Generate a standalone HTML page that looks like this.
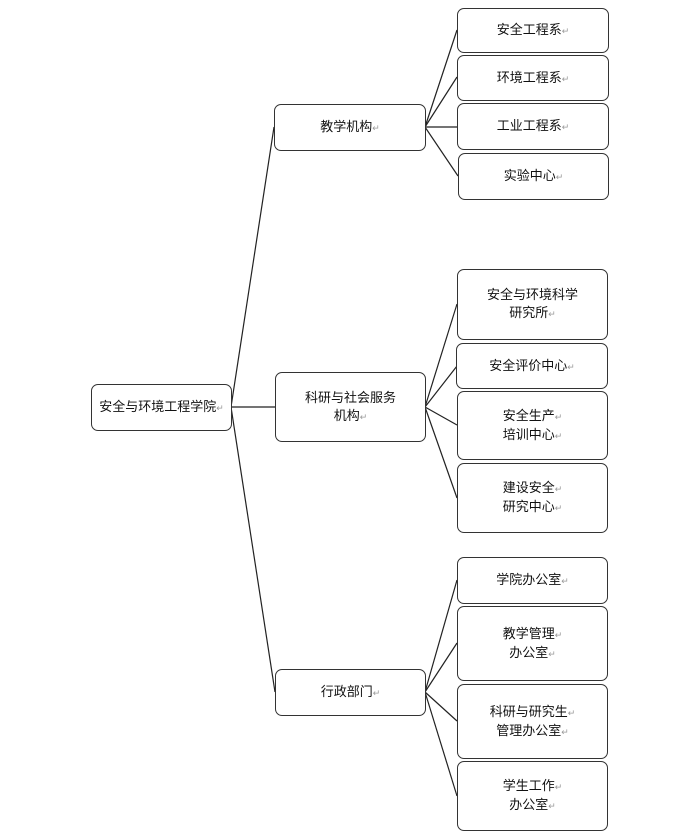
<!DOCTYPE html>
<html><head><meta charset="utf-8"><style>
body{margin:0;width:690px;height:835px;background:#fff;position:relative;overflow:hidden;font-family:"Liberation Sans","Noto Sans CJK SC",sans-serif;}
.b{position:absolute;box-sizing:border-box;border:1.3px solid #333;border-radius:7px;display:flex;align-items:center;justify-content:center;text-align:center;font-size:13px;line-height:18px;color:#111;background:#fff;}
.b>div{white-space:nowrap;}
.r{color:#999;font-size:9px;}
svg{position:absolute;left:0;top:0;}
</style></head><body>
<svg width="690" height="835"><g stroke="#222" stroke-width="1.2" fill="none">
<line x1="231" y1="407" x2="275" y2="407"/>
<line x1="231" y1="407" x2="274" y2="127"/>
<line x1="231" y1="407" x2="275" y2="692"/>
<line x1="425" y1="127" x2="457" y2="30"/>
<line x1="425" y1="127" x2="457" y2="77"/>
<line x1="425" y1="127" x2="457" y2="127"/>
<line x1="425" y1="127" x2="458" y2="176"/>
<line x1="425" y1="407" x2="457" y2="304"/>
<line x1="425" y1="407" x2="457" y2="366"/>
<line x1="425" y1="407" x2="457" y2="425"/>
<line x1="425" y1="407" x2="457" y2="498"/>
<line x1="425" y1="692" x2="457" y2="580"/>
<line x1="425" y1="692" x2="457" y2="643"/>
<line x1="425" y1="692" x2="457" y2="721"/>
<line x1="425" y1="692" x2="457" y2="796"/>
</g></svg>
<div class="b" style="left:91px;top:384px;width:141px;height:47px"><div>安全与环境工程学院<span class="r">↵</span></div></div>
<div class="b" style="left:274px;top:104px;width:152px;height:47px"><div>教学机构<span class="r">↵</span></div></div>
<div class="b" style="left:275px;top:372px;width:151px;height:70px"><div>科研与社会服务<br>机构<span class="r">↵</span></div></div>
<div class="b" style="left:275px;top:669px;width:151px;height:47px"><div>行政部门<span class="r">↵</span></div></div>
<div class="b" style="left:457px;top:8px;width:152px;height:45px"><div>安全工程系<span class="r">↵</span></div></div>
<div class="b" style="left:457px;top:55px;width:152px;height:46px"><div>环境工程系<span class="r">↵</span></div></div>
<div class="b" style="left:457px;top:103px;width:152px;height:47px"><div>工业工程系<span class="r">↵</span></div></div>
<div class="b" style="left:458px;top:153px;width:151px;height:47px"><div>实验中心<span class="r">↵</span></div></div>
<div class="b" style="left:457px;top:269px;width:151px;height:71px"><div>安全与环境科学<br>研究所<span class="r">↵</span></div></div>
<div class="b" style="left:456px;top:343px;width:152px;height:46px"><div>安全评价中心<span class="r">↵</span></div></div>
<div class="b" style="left:457px;top:391px;width:151px;height:69px"><div>安全生产<span class="r">↵</span><br>培训中心<span class="r">↵</span></div></div>
<div class="b" style="left:457px;top:463px;width:151px;height:70px"><div>建设安全<span class="r">↵</span><br>研究中心<span class="r">↵</span></div></div>
<div class="b" style="left:457px;top:557px;width:151px;height:47px"><div>学院办公室<span class="r">↵</span></div></div>
<div class="b" style="left:457px;top:606px;width:151px;height:75px"><div>教学管理<span class="r">↵</span><br>办公室<span class="r">↵</span></div></div>
<div class="b" style="left:457px;top:684px;width:151px;height:75px"><div>科研与研究生<span class="r">↵</span><br>管理办公室<span class="r">↵</span></div></div>
<div class="b" style="left:457px;top:761px;width:151px;height:70px"><div>学生工作<span class="r">↵</span><br>办公室<span class="r">↵</span></div></div>
</body></html>
